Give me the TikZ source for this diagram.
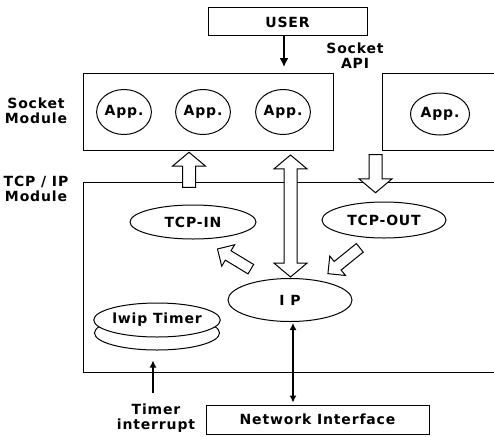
\documentclass[tikz,border=0pt]{standalone}
\usepackage{fontspec}
\setmainfont{DejaVu Sans}
\newfontfamily\lblfont{DejaVu Sans}[LetterSpace=6]
\usetikzlibrary{shapes.geometric,shapes.arrows,arrows.meta}
\tikzset{
  lbl/.style={font=\lblfont\bfseries\fontsize{14}{15.5}\selectfont, inner sep=0pt, align=center},
  box/.style={draw, line width=1pt, inner sep=0pt, font=\lblfont\bfseries\fontsize{14}{15.5}\selectfont},
  oval/.style={draw, ellipse, line width=1pt, fill=white, inner sep=0pt, font=\lblfont\bfseries\fontsize{14}{15.5}\selectfont},
  vblock/.style={draw, single arrow, line width=1pt, fill=white, inner xsep=0pt, inner ysep=6pt, single arrow head extend=10pt, single arrow tip angle=100},
  dblock/.style={draw, single arrow, line width=1pt, fill=white, inner xsep=0pt, inner ysep=5pt, single arrow head extend=7pt, single arrow tip angle=90},
  solidarrow/.style={line width=1.6pt, -{Latex[length=9pt,width=9pt]}},
  thinarrow/.style={line width=1.3pt, {Latex[length=7pt,width=7pt]}-{Latex[length=7pt,width=7pt]}},
  uparrow/.style={line width=1.3pt, -{Latex[length=7pt,width=7pt]}}
}
\begin{document}
\begin{tikzpicture}[x=1pt,y=-1pt]
\useasboundingbox (0,0) rectangle (494,436);
\clip (0,0) rectangle (494,436);
% boxes
\node[box, minimum width=159pt, minimum height=28pt] (user) at (287.5,22) {USER};
\node[box, minimum width=250pt, minimum height=77pt] (sock) at (208,111.5) {};
\node[box, minimum width=118pt, minimum height=77pt] (sockR) at (441,111.5) {};
\node[box, minimum width=417pt, minimum height=190pt] (tcpbox) at (291.5,277) {};
\node[box, minimum width=223pt, minimum height=29pt] (ni) at (317.5,419.5) {Network Interface};
% labels
\node[lbl] (lsock) at (36,111) {Socket\\Module};
\node[lbl] (ltcp) at (36,189) {TCP / IP\\Module};
\node[lbl] (lapi) at (355,55.5) {Socket\\API};
\node[lbl] (tint) at (156,418) {Timer\\interrupt};
% apps
\node[oval, minimum width=50pt, minimum height=45pt] (a1) at (124,112) {App.};
\node[oval, minimum width=50pt, minimum height=45pt] (a2) at (203,112) {App.};
\node[oval, minimum width=50pt, minimum height=45pt] (a3) at (283,112) {App.};
\node[oval, minimum width=59pt, minimum height=42pt] (a4) at (440,114) {App.};
% tcp/ip module ellipses
\node[oval, minimum width=126pt, minimum height=34pt] (tin) at (193,222) {TCP-IN};
\node[oval, minimum width=124pt, minimum height=36pt] (tout) at (384,220) {TCP-OUT};
\node[oval, minimum width=124pt, minimum height=43pt] (ip) at (290,300) {I P};
\node[oval, minimum width=125pt, minimum height=34pt] (lwb) at (157,333) {};
\node[oval, minimum width=125pt, minimum height=34pt] (lw) at (157,320) {lwip Timer};
% block arrows
\node[vblock, minimum height=35pt, rotate=90] (bup) at (189,172.5) {};
\node[vblock, minimum height=38pt, rotate=-90] (bdown) at (375.5,171) {};
\node[draw, double arrow, line width=1pt, fill=white, inner xsep=0pt, inner ysep=6pt, double arrow head extend=10pt, double arrow tip angle=100, minimum height=122pt, rotate=90] (bmid) at (290.5,216) {};
\node[dblock, minimum height=39pt, rotate=148.8] (bin) at (236.5,260.5) {};
\node[dblock, minimum height=41pt, rotate=219] (bout) at (346,259) {};
% thin arrows
\coordinate (ua) at (284,67);
\draw[solidarrow] (user.south -| ua) -- (ua);
\coordinate (ipx) at (293,0);
\draw[thinarrow, shorten <=1pt, shorten >=2pt] (ip.south -| ipx) -- (ni.north -| ipx);
\coordinate (tx) at (153,0);
\draw[uparrow, shorten <=10pt, shorten >=10pt] (tint.north -| tx) -- (lwb.south -| tx);
\end{tikzpicture}
\end{document}
